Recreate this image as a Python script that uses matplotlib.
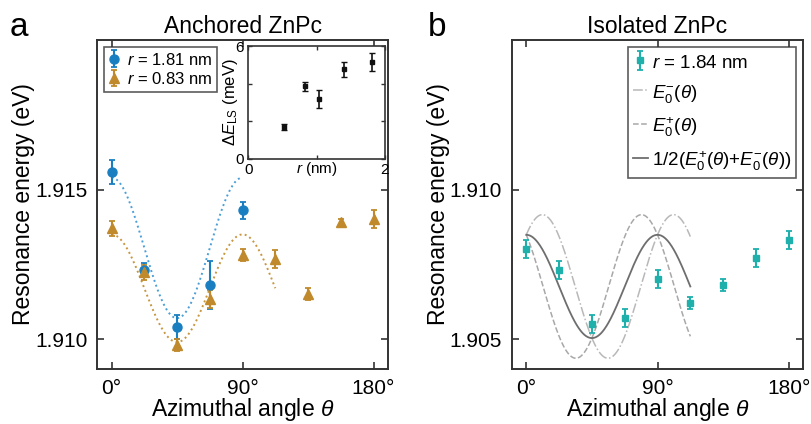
import numpy as np
import matplotlib
matplotlib.use("Agg")
import matplotlib.pyplot as plt

plt.rcParams['font.family'] = ['Liberation Sans', 'DejaVu Sans']
plt.rcParams['mathtext.fontset'] = 'custom'
plt.rcParams['mathtext.rm'] = 'Liberation Sans'
plt.rcParams['mathtext.it'] = 'Liberation Sans:italic'
plt.rcParams['mathtext.bf'] = 'Liberation Sans:bold'

# ---------------- data ----------------
angles = [0, 22.5, 45, 67.5, 90, 112.5, 135, 157.5, 180]

# Panel a: anchored ZnPc
blue_x = [0, 22.5, 45, 67.5, 90]
blue_y = [1.9156, 1.91231, 1.91041, 1.9118, 1.9143]
blue_err = [0.0004, 0.00025, 0.0004, 0.0008, 0.0003]

gold_x = angles
gold_y = [1.91371, 1.91224, 1.90981, 1.91133, 1.9128, 1.91269, 1.91151, 1.91391, 1.9140]
gold_err = [0.00025, 0.00025, 0.0002, 0.0003, 0.0002, 0.0003, 0.0002, 0.0001, 0.0003]

# fit parameters (mean, amplitude, end angle) of cos(4 theta) model curves
blue_fit = (1.91305, 0.00235, 90)
gold_fit = (1.9117, 0.0018, 112.5)

# inset: Delta E_LS vs r
inset_r = [0.52, 0.83, 1.04, 1.40, 1.81]
inset_dE = [1.70, 3.85, 3.18, 4.76, 5.17]
inset_err = [0.15, 0.23, 0.49, 0.41, 0.48]

# Panel b: isolated ZnPc
teal_x = angles
teal_y = [1.9080, 1.9073, 1.9055, 1.9057, 1.9070, 1.9062, 1.9068, 1.9077, 1.9083]
teal_err = [0.0003, 0.0003, 0.0003, 0.0003, 0.0003, 0.0002, 0.0002, 0.0003, 0.0003]

# model: mean, amplitude, phase shift (deg), end angle
iso_model = (1.90676, 0.0024, 11.0, 112.5)

xticks = [0, 90, 180]
xticklabels = ['0°', '90°', '180°']

BLUE = '#1a7fc1'
BLUE_L = '#4a9fd8'
GOLD = '#c08a2c'
GOLD_L = '#c8963e'
TEAL = '#1fb0ac'
SPINE = '#333333'

TICK_FS = 15
LABEL_FS = 16.5
TITLE_FS = 16.5

fig = plt.figure(figsize=(8.12, 4.24), dpi=100)

def style_axes(ax, fs=TICK_FS):
    for s in ax.spines.values():
        s.set_linewidth(1.4)
        s.set_color(SPINE)
    ax.tick_params(direction='in', top=True, right=True, length=5, width=1.2,
                   labelsize=fs, color=SPINE, pad=7)

# ---------- panel a ----------
axa = fig.add_axes([0.1195, 0.1297, 0.3584, 0.776])
th = np.linspace(0, blue_fit[2], 200)
axa.plot(th, blue_fit[0] + blue_fit[1] * np.cos(np.deg2rad(4 * th)), ':', color=BLUE_L, lw=1.4)
th = np.linspace(0, gold_fit[2], 200)
axa.plot(th, gold_fit[0] + gold_fit[1] * np.cos(np.deg2rad(4 * th)), ':', color=GOLD_L, lw=1.4)

axa.errorbar(blue_x, blue_y, yerr=blue_err, fmt='o', color=BLUE, ms=6.5, capsize=2.5,
             elinewidth=1.5, capthick=1.3, label='$r$ = 1.81 nm', zorder=3)
axa.errorbar(gold_x, gold_y, yerr=gold_err, fmt='^', color=GOLD, ms=7, capsize=2.5,
             elinewidth=1.5, capthick=1.3, label='$r$ = 0.83 nm', zorder=3)
axa.set_xlim(-10, 190)
axa.set_ylim(1.909, 1.920)
axa.set_xticks(xticks)
axa.set_xticklabels(xticklabels)
axa.set_yticks([1.910, 1.915])
axa.set_yticklabels(['1.910', '1.915'])
style_axes(axa)
axa.set_xlabel(r'Azimuthal angle $\theta$', fontsize=LABEL_FS, labelpad=-1)
axa.set_ylabel('Resonance energy (eV)', fontsize=LABEL_FS, labelpad=0)
axa.set_title('Anchored ZnPc', fontsize=TITLE_FS, pad=5)
leg = axa.legend(loc='upper left', fontsize=12, frameon=True, fancybox=False,
                 handlelength=0.6, handletextpad=0.5, borderpad=0.3,
                 labelspacing=0.2, borderaxespad=0.4)
leg.get_frame().set_edgecolor(SPINE)
leg.get_frame().set_linewidth(1.2)
fig.text(0.012, 0.915, 'a', fontsize=24)

# inset
axi = fig.add_axes([0.3058, 0.6257, 0.1683, 0.2658])
axi.errorbar(inset_r, inset_dE, yerr=inset_err, fmt='s', color='#111111', ms=3,
             capsize=2, elinewidth=1.2, capthick=1.0)
axi.set_xlim(0, 2)
axi.set_ylim(0, 6)
axi.set_xticks([0, 1, 2])
axi.set_xticklabels(['0', '', '2'])
axi.set_yticks([0, 2, 4, 6])
axi.set_yticklabels(['0', '', '', '6'])
for s in axi.spines.values():
    s.set_linewidth(1.2)
    s.set_color(SPINE)
axi.tick_params(direction='in', top=True, right=True, length=3, width=1.0,
                labelsize=11, color=SPINE, pad=3)
axi.set_xlabel('$r$ (nm)', fontsize=11, labelpad=-12)
axi.set_ylabel(r'$\Delta E_{\mathrm{LS}}$ (meV)', fontsize=12, labelpad=-3)

# ---------- panel b ----------
axb = fig.add_axes([0.6302, 0.1297, 0.3591, 0.776])
mean, amp, sh, tend = iso_model
th = np.linspace(0, tend, 300)
e_minus = mean + amp * np.cos(np.deg2rad(4 * (th - sh)))
e_plus = mean + amp * np.cos(np.deg2rad(4 * (th + sh)))
h0 = axb.errorbar(teal_x, teal_y, yerr=teal_err, fmt='s', color=TEAL, ms=5, capsize=2.5,
                  elinewidth=1.5, capthick=1.3, label='$r$ = 1.84 nm', zorder=3)
h1, = axb.plot(th, e_minus, '-.', color='#b8b8b8', lw=1.1, label=r'$E_0^{-}(\theta)$')
h2, = axb.plot(th, e_plus, '--', color='#a8a8a8', lw=1.1, label=r'$E_0^{+}(\theta)$')
h3, = axb.plot(th, 0.5 * (e_plus + e_minus), '-', color='#6e6e6e', lw=1.3,
               label=r'1/2($E_0^{+}(\theta)$+$E_0^{-}(\theta)$)')
axb.set_xlim(-10, 190)
axb.set_ylim(1.904, 1.915)
axb.set_xticks(xticks)
axb.set_xticklabels(xticklabels)
axb.set_yticks([1.905, 1.910])
axb.set_yticklabels(['1.905', '1.910'])
style_axes(axb)
axb.set_xlabel(r'Azimuthal angle $\theta$', fontsize=LABEL_FS, labelpad=-1)
axb.set_ylabel('Resonance energy (eV)', fontsize=LABEL_FS, labelpad=0)
axb.set_title('Isolated ZnPc', fontsize=TITLE_FS, pad=5)
legb = axb.legend(handles=[h0, h1, h2, h3], loc='upper right', fontsize=13.5,
                  frameon=True, fancybox=False,
                  handlelength=0.8, handletextpad=0.2, borderpad=0.25,
                  labelspacing=0.55, borderaxespad=0.4, handleheight=1.2)
legb.get_frame().set_edgecolor(SPINE)
legb.get_frame().set_linewidth(1.2)
fig.text(0.527, 0.915, 'b', fontsize=24)

fig.savefig('out.png', dpi=100)
